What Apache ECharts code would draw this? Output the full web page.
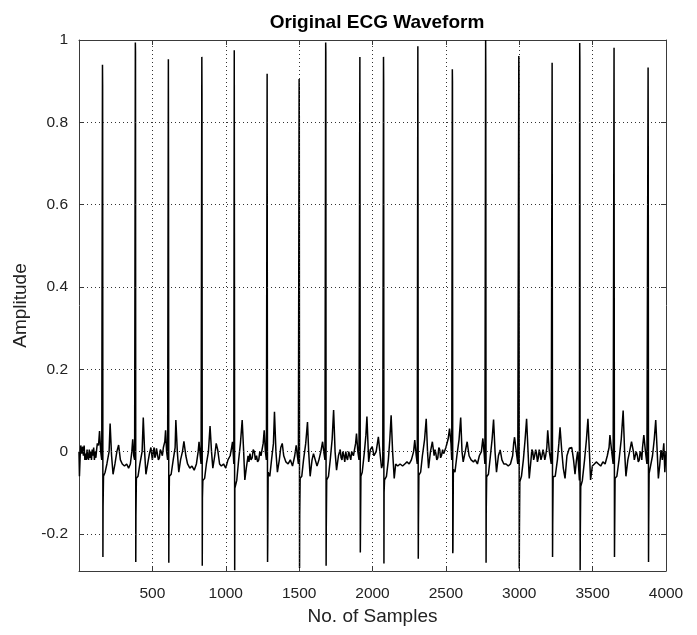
<!DOCTYPE html>
<html>
<head>
<meta charset="utf-8">
<script src="https://cdn.jsdelivr.net/npm/echarts@6/dist/echarts.min.js"></script>
<style>
html,body{margin:0;padding:0;background:#fff;}
#chart{width:697px;height:635px;}
</style>
</head>
<body>
<div id="chart"></div>
<script>
// ---- data ----
var chartTitle = 'Original ECG Waveform';
var xName = 'No. of Samples';
var yName = 'Amplitude';
var xTicks = [500, 1000, 1500, 2000, 2500, 3000, 3500, 4000];
var yTicks = [-0.2, 0, 0.2, 0.4, 0.6, 0.8, 1];
var xGrid = [500, 1000, 1500, 2000, 2500, 3000, 3500];
var yGrid = [-0.2, 0, 0.2, 0.4, 0.6, 0.8];

// ECG trace: [sample index, amplitude]
var ecgTrace = [
  [0,0.0],[3,-0.06],[8,-0.01],[12,0.015],[18,-0.005],[25,0.012],[30,-0.01],[35,0.015],[40,-0.02],[45,-0.005],[50,-0.02],[55,0.005],[60,-0.015],[65,-0.02],[70,0.005],[75,-0.015],[80,0.0],[85,-0.02],[90,0.005],[95,-0.01],[100,0.01],[105,-0.02],[110,0.0],[115,-0.015],[120,0.005],[125,0.02],[133,0.015],[140,0.05],[148,0.0],[155,-0.02],
  // beat 1
  [160,0.94],[161,0.89],[163,-0.256],[164,-0.134],[167,-0.06],[178,-0.05],[190,-0.03],[205,0.0],[212,0.068],[222,-0.01],[232,-0.055],[245,-0.03],[258,0.0],[270,0.016],[282,-0.02],[295,-0.03],[310,-0.035],[325,-0.03],[338,-0.04],[350,-0.03],[360,0.0],[366,0.03],[373,-0.01],[379,-0.02],
  // beat 2
  [384,0.994],[385,0.97],[387,-0.268],[388,-0.158],[391,-0.065],[402,-0.06],[415,-0.03],[430,0.0],[438,0.083],[447,0.0],[456,-0.055],[468,-0.03],[480,-0.005],[490,0.01],[500,-0.02],[506,0.0],[512,0.01],[517,-0.015],[522,-0.01],[528,0.008],[535,0.005],[541,-0.02],[548,-0.015],[554,0.005],[560,0.0],[568,-0.01],[575,0.01],[585,0.025],[590,0.052],[597,0.0],[604,-0.02],
  // beat 3
  [609,0.953],[610,0.70],[612,-0.27],[613,-0.154],[616,-0.06],[628,-0.055],[642,-0.02],[655,0.01],[660,0.077],[670,0.0],[680,-0.05],[692,-0.02],[705,0.0],[715,0.025],[728,-0.01],[740,-0.03],[755,-0.04],[770,-0.035],[785,-0.045],[800,-0.03],[812,0.0],[818,0.024],[826,-0.01],[832,-0.03],
  // beat 4
  [837,0.959],[838,0.87],[840,-0.277],[841,-0.113],[844,-0.07],[856,-0.065],[868,-0.03],[882,0.0],[893,0.062],[903,0.0],[912,-0.04],[925,-0.01],[935,0.02],[945,0.005],[958,-0.03],[970,-0.035],[985,-0.03],[1000,-0.04],[1015,-0.02],[1030,-0.01],[1040,0.01],[1046,0.024],[1052,-0.01],[1055,-0.03],
  // beat 5
  [1058,0.975],[1059,0.53],[1061,-0.288],[1062,-0.089],[1065,-0.085],[1075,-0.07],[1088,-0.02],[1100,0.02],[1112,0.077],[1122,0.0],[1130,-0.069],[1140,-0.04],[1152,-0.01],[1158,-0.025],[1165,-0.005],[1172,-0.02],[1180,-0.015],[1187,0.005],[1195,0.0],[1202,-0.02],[1210,-0.01],[1217,-0.025],[1225,-0.02],[1232,0.0],[1240,-0.01],[1255,0.02],[1262,0.052],[1270,0.0],[1277,-0.02],
  // beat 6
  [1282,0.918],[1283,0.456],[1285,-0.268],[1286,-0.227],[1289,-0.05],[1300,-0.06],[1312,-0.02],[1325,0.02],[1332,0.097],[1342,0.0],[1352,-0.05],[1365,-0.02],[1375,0.01],[1385,0.02],[1395,-0.01],[1410,-0.025],[1425,-0.03],[1440,-0.02],[1455,-0.035],[1470,-0.01],[1480,0.015],[1488,-0.01],[1495,-0.03],
  // beat 7
  [1500,0.905],[1501,0.88],[1503,-0.283],[1504,-0.154],[1507,-0.065],[1518,-0.06],[1530,-0.02],[1545,0.02],[1557,0.072],[1565,0.0],[1575,-0.06],[1588,-0.02],[1598,-0.005],[1610,-0.02],[1622,-0.035],[1635,-0.02],[1648,0.0],[1660,0.024],[1668,0.0],[1676,-0.02],
  // beat 8
  [1681,0.994],[1682,0.97],[1684,-0.277],[1685,-0.183],[1688,-0.069],[1700,-0.06],[1712,-0.02],[1725,0.03],[1735,0.101],[1745,0.0],[1755,-0.045],[1768,-0.01],[1780,0.005],[1786,-0.015],[1792,-0.02],[1798,0.0],[1805,-0.01],[1811,-0.025],[1818,0.0],[1824,-0.015],[1830,-0.02],[1838,0.0],[1845,-0.01],[1852,-0.02],[1858,0.0],[1870,-0.01],[1885,0.02],[1891,0.044],[1900,0.0],[1908,-0.02],
  // beat 9
  [1914,0.959],[1915,0.59],[1917,-0.245],[1918,-0.2],[1921,-0.06],[1930,-0.05],[1945,0.0],[1955,0.04],[1962,0.085],[1968,0.03],[1974,-0.025],[1985,0.005],[1998,0.012],[2010,-0.01],[2025,0.0],[2040,0.036],[2050,0.0],[2062,-0.04],[2070,-0.03],
  // beat 10
  [2075,0.959],[2076,0.9],[2078,-0.272],[2079,-0.1],[2082,-0.069],[2095,-0.06],[2108,-0.02],[2118,0.03],[2127,0.088],[2137,0.0],[2148,-0.065],[2158,-0.03],[2172,-0.035],[2188,-0.03],[2205,-0.035],[2220,-0.03],[2235,-0.025],[2250,-0.03],[2265,-0.02],[2280,0.0],[2288,0.028],[2298,-0.01],[2305,-0.03],
  // beat 11
  [2309,0.985],[2310,0.625],[2312,-0.26],[2313,-0.179],[2316,-0.057],[2328,-0.05],[2340,-0.01],[2355,0.03],[2366,0.08],[2375,0.0],[2382,-0.04],[2395,0.0],[2408,0.024],[2420,-0.01],[2426,0.005],[2432,-0.005],[2438,-0.02],[2445,-0.015],[2452,0.01],[2458,0.005],[2464,-0.015],[2470,-0.01],[2478,0.005],[2485,-0.005],[2500,0.01],[2515,0.03],[2525,0.056],[2535,0.02],[2540,-0.02],
  // beat 12
  [2544,0.929],[2545,0.9],[2547,-0.247],[2548,-0.24],[2551,-0.043],[2562,-0.05],[2575,-0.01],[2590,0.03],[2601,0.083],[2610,0.0],[2618,-0.025],[2632,0.0],[2645,0.024],[2658,-0.01],[2672,-0.02],[2688,-0.025],[2700,-0.02],[2715,-0.03],[2728,-0.01],[2742,0.0],[2752,0.032],[2760,0.0],[2766,-0.03],
  // beat 13
  [2771,1.0],[2772,0.918],[2774,-0.27],[2775,-0.142],[2778,-0.061],[2790,-0.055],[2802,-0.015],[2815,0.03],[2825,0.078],[2835,0.0],[2845,-0.05],[2858,-0.01],[2870,0.004],[2882,-0.02],[2895,-0.03],[2910,-0.03],[2925,-0.035],[2940,-0.03],[2955,-0.01],[2962,0.02],[2968,0.035],[2980,0.0],[2990,-0.03],
  // beat 14
  [2997,0.961],[2998,0.92],[3000,-0.284],[3001,-0.2],[3004,-0.073],[3015,-0.06],[3028,-0.02],[3040,0.03],[3050,0.08],[3060,0.0],[3068,-0.065],[3080,-0.02],[3086,0.005],[3092,0.0],[3098,-0.02],[3105,-0.01],[3112,0.005],[3118,-0.005],[3124,-0.025],[3130,-0.015],[3136,0.005],[3142,-0.005],[3148,-0.02],[3155,-0.01],[3162,0.005],[3168,-0.005],[3174,-0.02],[3180,-0.01],[3188,0.01],[3194,0.052],[3205,0.0],[3218,-0.03],
  // beat 15
  [3224,0.945],[3225,0.572],[3227,-0.256],[3228,-0.18],[3231,-0.061],[3245,-0.06],[3260,-0.02],[3270,0.02],[3278,0.059],[3290,0.0],[3300,-0.04],[3312,-0.065],[3325,-0.01],[3341,0.008],[3358,0.01],[3370,-0.02],[3380,-0.055],[3390,-0.02],[3398,0.0],[3405,-0.04],[3410,-0.07],
  // beat 16
  [3412,0.993],[3413,0.95],[3415,-0.288],[3416,-0.2],[3419,-0.085],[3430,-0.07],[3445,-0.02],[3458,0.03],[3468,0.08],[3478,0.0],[3486,-0.069],[3498,-0.035],[3512,-0.03],[3525,-0.025],[3540,-0.03],[3555,-0.035],[3570,-0.025],[3585,-0.03],[3600,-0.01],[3612,0.01],[3618,0.04],[3630,0.0],[3640,-0.03],
  // beat 17
  [3646,0.981],[3647,0.44],[3649,-0.256],[3650,-0.2],[3653,-0.065],[3665,-0.06],[3680,-0.02],[3695,0.03],[3708,0.1],[3718,0.0],[3727,-0.06],[3740,-0.02],[3752,0.0],[3765,0.024],[3778,0.0],[3784,-0.02],[3790,-0.02],[3797,0.0],[3805,-0.01],[3811,-0.025],[3818,-0.02],[3824,0.0],[3830,-0.005],[3835,-0.02],[3840,0.01],[3849,0.04],[3860,0.0],[3870,-0.03],
  // beat 18
  [3878,0.933],[3879,0.726],[3881,-0.268],[3882,-0.183],[3885,-0.053],[3895,-0.05],[3908,-0.01],[3920,0.03],[3930,0.077],[3940,0.0],[3948,-0.065],[3958,-0.03],[3966,0.004],[3975,-0.02],[3985,0.02],[3992,-0.05],[4000,0.0]
];

// ---- chart ----
var textColor = '#222';
var frameColor = '#3a3a3a';
var fontFam = 'Liberation Sans, Arial, sans-serif';
var gridLineStyle = { color: '#333', width: 1, type: [1, 3] };

var chart = echarts.init(document.getElementById('chart'), null, { renderer: 'canvas' });

var gridMarks = [];
xGrid.forEach(function (v) { gridMarks.push({ xAxis: v }); });
yGrid.forEach(function (v) { gridMarks.push({ yAxis: v }); });

var option = {
  animation: false,
  backgroundColor: '#fff',
  title: {
    text: chartTitle,
    left: 372,
    textAlign: 'center',
    top: 8,
    textStyle: { fontFamily: fontFam, fontWeight: 'bold', fontSize: 19, color: '#000' }
  },
  grid: { left: 79, top: 40, width: 587, height: 531, containLabel: false },
  xAxis: [{
    type: 'value', min: 0, max: 4000, interval: 500, position: 'bottom',
    name: xName, nameLocation: 'middle', nameGap: 35,
    nameTextStyle: { fontFamily: fontFam, fontSize: 19, color: textColor },
    axisLine: { show: true, onZero: false, lineStyle: { color: frameColor, width: 1 } },
    axisTick: { show: true, inside: true, length: 5, lineStyle: { color: frameColor } },
    axisLabel: {
      show: true, margin: 15, color: textColor, fontSize: 15.5, fontFamily: fontFam,
      formatter: function (v) { return xTicks.indexOf(v) >= 0 ? String(v) : ''; }
    },
    splitLine: { show: false }
  }, {
    type: 'value', min: 0, max: 4000, interval: 500, position: 'top',
    axisLine: { show: true, onZero: false, lineStyle: { color: frameColor, width: 1 } },
    axisTick: { show: true, inside: true, length: 5, lineStyle: { color: frameColor } },
    axisLabel: { show: false },
    splitLine: { show: false }
  }],
  yAxis: [{
    type: 'value', min: -0.29, max: 1, position: 'left',
    name: yName, nameLocation: 'middle', nameGap: 41, nameRotate: 90,
    nameTextStyle: { fontFamily: fontFam, fontSize: 19, color: textColor },
    axisLine: { show: true, onZero: false, lineStyle: { color: frameColor, width: 1 } },
    axisTick: { show: true, inside: true, length: 5, lineStyle: { color: frameColor }, customValues: yTicks },
    axisLabel: {
      show: true, margin: 11, color: textColor, fontSize: 15.5, fontFamily: fontFam,
      customValues: yTicks,
      formatter: function (v) { return String(Math.round(v * 10) / 10); }
    },
    splitLine: { show: false }
  }, {
    type: 'value', min: -0.29, max: 1, position: 'right',
    axisLine: { show: true, onZero: false, lineStyle: { color: frameColor, width: 1 } },
    axisTick: { show: true, inside: true, length: 5, lineStyle: { color: frameColor }, customValues: yTicks },
    axisLabel: { show: false, customValues: yTicks },
    splitLine: { show: false }
  }],
  series: [{
    name: 'grid',
    type: 'line',
    xAxisIndex: 0, yAxisIndex: 0,
    data: [[0, 0]],
    showSymbol: false,
    lineStyle: { opacity: 0 },
    silent: true,
    z: 1,
    markLine: {
      silent: true,
      symbol: ['none', 'none'],
      label: { show: false },
      lineStyle: gridLineStyle,
      emphasis: { disabled: true },
      data: gridMarks,
      animation: false
    }
  }, {
    name: 'ECG',
    type: 'line',
    xAxisIndex: 0, yAxisIndex: 0,
    data: ecgTrace,
    showSymbol: false,
    symbol: 'none',
    sampling: null,
    lineStyle: { color: '#000', width: 1.5 },
    silent: true,
    z: 3
  }]
};
chart.setOption(option);
</script>
</body>
</html>
